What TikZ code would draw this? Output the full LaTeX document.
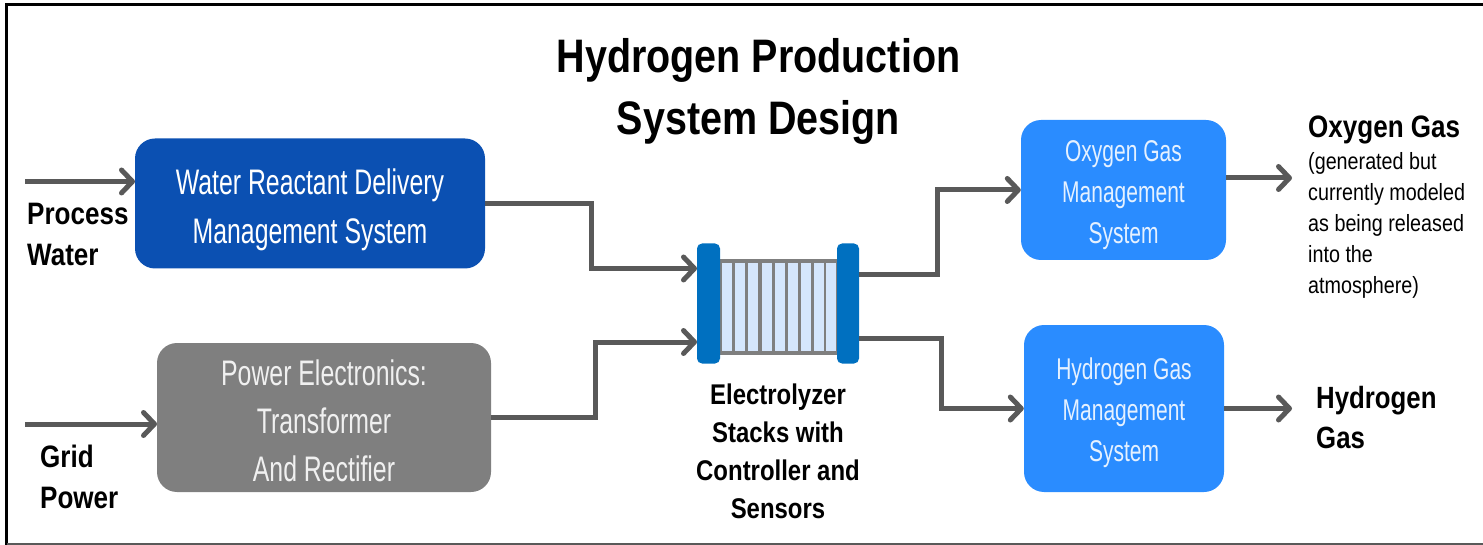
\documentclass[tikz,border=0pt]{standalone}
\usepackage{fontspec}
\setmainfont{Liberation Sans}[FakeStretch=0.84]
\newfontfamily\boxfont{Liberation Sans}[FakeStretch=0.70]
\usetikzlibrary{arrows.meta}
\definecolor{lineGray}{HTML}{595959}
\definecolor{deepBlue}{HTML}{0B50B2}
\definecolor{midGray}{HTML}{7F7F7F}
\definecolor{brightBlue}{HTML}{2A8CFF}
\definecolor{plateBlue}{HTML}{0070C0}
\definecolor{cellBlue}{HTML}{D5E6FC}
\tikzset{
  sysbox/.style={rounded corners=20pt,inner sep=0pt,text=white,align=center,font=\boxfont\fontsize{35.5}{49}\selectfont},
  flow/.style={line width=5pt,draw=lineGray,-{Straight Barb[length=11pt,width=23pt,line width=5pt,round]}},
  plate/.style={fill=plateBlue,rounded corners=5pt,inner sep=0pt,minimum width=23pt,minimum height=120pt},
  lbl/.style={inner sep=0pt,align=left,anchor=west,font=\fontsize{31}{41}\selectfont\bfseries}
}
\begin{document}
\begin{tikzpicture}[x=1pt,y=-1pt]
\useasboundingbox (0,0) rectangle (1483,545);
% frame
\draw[black,line width=3pt] (6.5,545) -- (6.5,4.5) -- (1483,4.5);
\draw[lineGray,line width=2pt] (6.5,544) -- (1483,544);
% title
\node[inner sep=0pt,align=center,font=\fontsize{47}{62}\selectfont\bfseries] (title) at (758.5,91) {Hydrogen Production\\System Design};
% boxes
\node[sysbox,fill=deepBlue,minimum width=350pt,minimum height=130pt] (water) at (310,203.5) {\rule{0pt}{39pt}Water Reactant Delivery\\Management System};
\node[sysbox,fill=midGray,minimum width=334pt,minimum height=149pt,font=\boxfont\fontsize{35.5}{48}\selectfont,text=white!94!black] (power) at (324,417.5) {\rule{0pt}{32pt}Power Electronics:\\Transformer\\And Rectifier};
\node[sysbox,fill=brightBlue,minimum width=205pt,minimum height=140pt,font=\boxfont\fontsize{30}{41}\selectfont,text=white!88!brightBlue] (oxygen) at (1123.5,190) {\rule{0pt}{32pt}Oxygen Gas\\Management\\System};
\node[sysbox,fill=brightBlue,minimum width=200pt,minimum height=167pt,font=\boxfont\fontsize{30}{41}\selectfont,text=white!88!brightBlue] (hydrogen) at (1124,408.5) {\rule{0pt}{30pt}Hydrogen Gas\\Management\\System};
% stack
\node[fill=midGray,inner sep=0pt,minimum width=120pt,minimum height=96pt] (body) at (778.5,307) {};
\foreach \i/\cx in {1/727,2/740,3/753,4/767,5/780,6/793,7/806,8/819,9/831}
  \node[fill=cellBlue,inner sep=0pt,minimum width=9.5pt,minimum height=88pt] (cell\i) at (\cx,307) {};
\node[plate] (leftplate) at (708.5,303.5) {};
\node[plate,minimum width=22pt] (rightplate) at (848,303.5) {};
% labels
\node[lbl] (pw) at (27,234.5) {Process\\Water};
\node[lbl] (gp) at (40,476.5) {Grid\\Power};
\node[lbl,font=\fontsize{30.7}{40}\selectfont\bfseries] (hg) at (1316,418) {Hydrogen\\Gas};
\node[lbl,anchor=west] (og) at (1308,130) {Oxygen Gas};
\node[inner sep=0pt,align=left,anchor=west,font=\fontsize{23.5}{31}\selectfont] (ogn) at (1308,225.5) {(generated but\\currently modeled\\as being released\\into the\\atmosphere)};
\node[inner sep=0pt,align=center,font=\fontsize{28.5}{38}\selectfont\bfseries] (el) at (778,451) {Electrolyzer\\Stacks with\\Controller and\\Sensors};
% free ends and ports
\coordinate (pwin) at (25,181.5);
\coordinate (pwout) at (135,181.5);
\coordinate (gpin) at (25,424);
\coordinate (gpout) at (157,424);
\coordinate (stackA) at (697,268.5);
\coordinate (stackB) at (697,342);
\coordinate (stackC) at (859,275);
\coordinate (stackD) at (859,338);
\coordinate (oxoutA) at (1226,178);
\coordinate (oxoutB) at (1292,178);
\coordinate (hyoutB) at (1292,408.5);
\coordinate (bendA) at (591,0);
\coordinate (bendB) at (595,0);
\coordinate (bendC) at (937,0);
\coordinate (bendD) at (941,0);
% connectors
\draw[flow] (pwin) -- (pwout);
\draw[flow] (gpin) -- (gpout);
\draw[flow] (water.east) -- (bendA |- water.east) -- (bendA |- stackA) -- (stackA);
\draw[flow] (power.east) -- (bendB |- power.east) -- (bendB |- stackB) -- (stackB);
\draw[flow] (stackC) -- (bendC |- stackC) -- (bendC |- oxygen.west) -- (oxygen.west);
\draw[flow] (stackD) -- (bendD |- stackD) -- (bendD |- hydrogen.west) -- (hydrogen.west);
\draw[flow] (oxoutA) -- (oxoutB);
\draw[flow] (hydrogen.east) -- (hyoutB);
\end{tikzpicture}
\end{document}
